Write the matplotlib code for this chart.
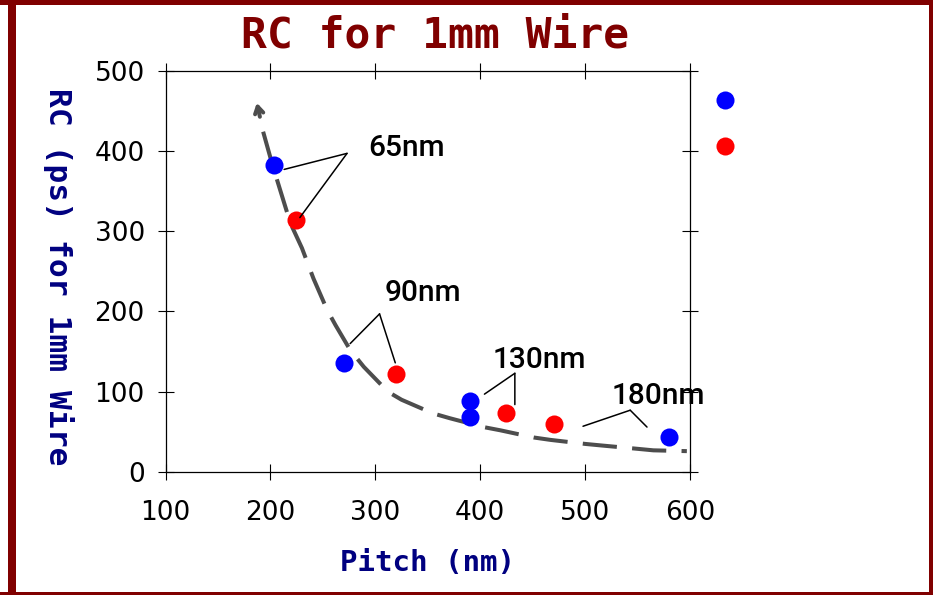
import matplotlib
matplotlib.use("Agg")
import matplotlib.pyplot as plt
from matplotlib.patches import Rectangle

# ---- data ----
blue_pitch = [203, 270, 390, 390, 580]
blue_rc = [382, 136, 88, 68, 43]
red_pitch = [224, 320, 425, 470]
red_rc = [314, 122, 74, 60]
key_pitch = [633, 633]
key_rc = [463, 406]
key_colors = ["#0000ff", "#ff0000"]

curve_pitch = [187, 193, 202, 219, 230, 241, 254, 262, 276, 289, 312, 325,
               355, 371, 403, 419, 451, 467, 500, 516, 549, 565, 597]
curve_rc = [460, 424, 382, 310, 279, 241, 202, 183, 152, 131, 100, 90,
            73, 67, 56, 52, 43, 40, 35, 33, 29, 27, 26]

labels = ["65nm", "90nm", "130nm", "180nm"]
label_xy = [(330, 404), (345, 223), (456, 140), (570, 95)]
label_vertex = [(273, 397), (304, 197), (433, 123), (543, 77)]
label_ends = [[(213, 377), (228, 317)],
              [(276, 160), (319, 136)],
              [(404, 97), (433, 84)],
              [(498, 57), (559, 56)]]

xticks = [100, 200, 300, 400, 500, 600]
yticks = [0, 100, 200, 300, 400, 500]

title = "RC for 1mm Wire"
xlabel = "Pitch (nm)"
ylabel = "RC (ps) for 1mm Wire"

# ---- figure ----
W, H = 933, 595
fig = plt.figure(figsize=(W / 100, H / 100), dpi=100)
fig.patch.set_facecolor("white")

ax = fig.add_axes([165.6 / W, 1 - 472 / H, (690 - 165.6) / W, (472 - 70.7) / H])
ax.set_xlim(100, 600)
ax.set_ylim(0, 500)

# curve
line_col = "#4d4d4d"
ax.plot(curve_pitch[1:], curve_rc[1:], color=line_col, lw=2.9,
        dashes=(8.5, 3.8), dash_capstyle="butt", zorder=2)
ax.annotate("", xy=(curve_pitch[0], curve_rc[0]), xytext=(curve_pitch[1], curve_rc[1]),
            arrowprops=dict(arrowstyle="->,head_length=0.5,head_width=0.3",
                            color=line_col, lw=2.9, shrinkA=11, shrinkB=0), zorder=2)

# points
ms = 13
ax.plot(blue_pitch, blue_rc, "o", color="#0000ff", ms=ms, mec="none", zorder=3)
ax.plot(red_pitch, red_rc, "o", color="#ff0000", ms=ms, mec="none", zorder=3)
for kx, ky, kc in zip(key_pitch, key_rc, key_colors):
    ax.plot([kx], [ky], "o", color=kc, ms=ms, mec="none", clip_on=False, zorder=3)

# annotations
for lab, txy, v, ends in zip(labels, label_xy, label_vertex, label_ends):
    ax.text(txy[0], txy[1], lab, ha="center", va="center", fontsize=21.5,
            family="Roboto", fontweight=500, color="black", zorder=4, clip_on=False)
    for e in ends:
        ax.annotate("", xy=e, xytext=v,
                    arrowprops=dict(arrowstyle="-", color="black", lw=1.1,
                                    shrinkA=0, shrinkB=0), zorder=4)

# axes styling
for s in ax.spines.values():
    s.set_linewidth(0.9)
    s.set_color("black")
ax.set_xticks(xticks)
ax.set_yticks(yticks)
ax.tick_params(direction="inout", length=12, width=0.8, top=True, right=True,
               labelsize=19, colors="black")
ax.tick_params(axis="x", pad=14)
ax.tick_params(axis="y", pad=9)
for t in ax.get_xticklabels() + ax.get_yticklabels():
    t.set_family("DejaVu Sans")

fig.text(435 / W, 1 - 36 / H, title, ha="center", va="center", fontsize=31,
         family="DejaVu Sans Mono", fontweight="bold", color="#800000")
fig.text(428 / W, 1 - 563 / H, xlabel, ha="center", va="center", fontsize=21,
         family="DejaVu Sans Mono", fontweight="bold", color="#000080")
fig.text(58 / W, 1 - 277 / H, ylabel, ha="center", va="center", fontsize=22.5,
         family="DejaVu Sans Mono", fontweight="bold", color="#000080", rotation=270)

# frame bars
frame_col = "#800000"
for (x0, y0, x1, y1) in [(8, 0, 15.5, H), (0, 0, W, 5), (929, 0, W, H), (0, 592, W, H)]:
    fig.add_artist(Rectangle((x0 / W, 1 - y1 / H), (x1 - x0) / W, (y1 - y0) / H,
                             transform=fig.transFigure, color=frame_col, lw=0, zorder=10))

fig.savefig("out.png", dpi=100, facecolor="white")
